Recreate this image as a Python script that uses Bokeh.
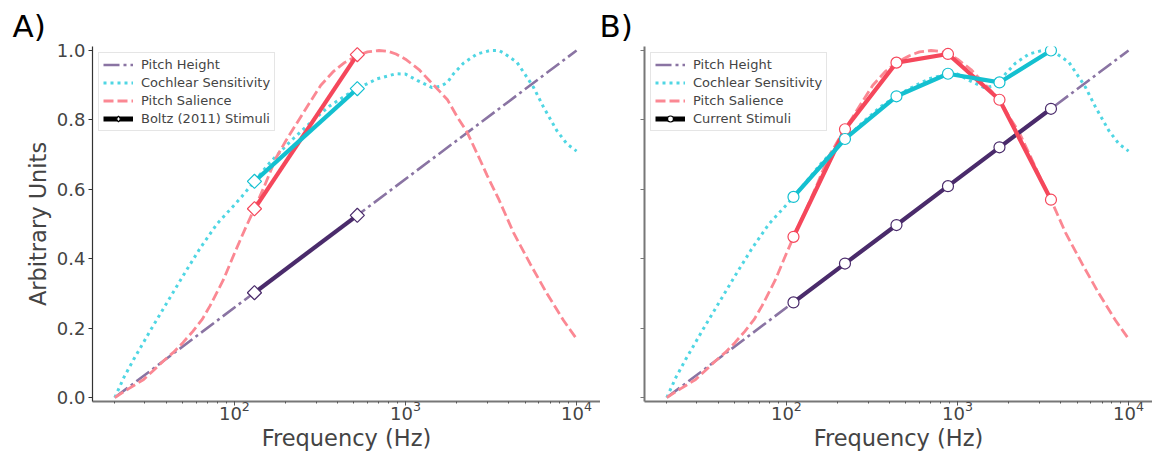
import math
from bokeh.plotting import figure
from bokeh.layouts import row
from bokeh.models import Range1d, Legend, LegendItem, Title, FixedTicker, PrintfTickFormatter
from bokeh.embed import file_html
from bokeh.resources import INLINE

# ---------------- data ----------------
height_freq = [20, 10000]
height_val = [0.0, 1.0]

cochlear_freq = [20, 22.6, 25.8, 32, 40, 50, 63, 79, 100, 110, 131, 160, 200, 220, 290, 360,
                 440, 523, 680, 880, 1000, 1170, 1430, 1600, 1760, 1910, 2180, 2620, 3130,
                 3520, 3740, 4480, 5130, 5600, 6410, 7670, 8780, 10000]
cochlear_val = [0.0, 0.058, 0.11, 0.19, 0.27, 0.35, 0.43, 0.50, 0.555, 0.578, 0.623, 0.675, 0.725,
                0.745, 0.80, 0.84, 0.868, 0.89, 0.918, 0.933, 0.932, 0.914, 0.893, 0.897, 0.908,
                0.933, 0.963, 0.99, 1.0, 1.0, 0.993, 0.966, 0.923, 0.894, 0.837, 0.769, 0.731, 0.71]

salience_freq = [20, 24, 29.5, 34, 38.6, 44, 50, 57, 65, 72, 86, 100, 110, 117, 131, 150, 175, 200,
                 220, 260, 320, 380, 440, 523, 600, 700, 800, 880, 1000, 1200, 1400, 1600, 1760,
                 2000, 2290, 2740, 3000, 3520, 4280, 5360, 6700, 8400, 10000]
salience_val = [0.0, 0.025, 0.052, 0.08, 0.106, 0.13, 0.158, 0.19, 0.226, 0.264, 0.338, 0.415, 0.462,
                0.492, 0.544, 0.61, 0.69, 0.74, 0.773, 0.83, 0.90, 0.94, 0.965, 0.985, 0.996, 1.0,
                0.997, 0.99, 0.975, 0.945, 0.91, 0.88, 0.858, 0.81, 0.765, 0.683, 0.64, 0.57, 0.475,
                0.385, 0.30, 0.222, 0.169]

# Panel A: Boltz (2011) stimuli
boltz_freq = [131, 523]
boltz_height = [0.302, 0.525]
boltz_cochlear = [0.623, 0.89]
boltz_salience = [0.544, 0.988]

# Panel B: current stimuli
cur_freq = [110, 220, 440, 880, 1760, 3520]
cur_height = [0.274, 0.386, 0.497, 0.609, 0.721, 0.832]
cur_cochlear = [0.578, 0.745, 0.868, 0.933, 0.908, 1.0]
cur_salience = [0.463, 0.773, 0.965, 0.99, 0.858, 0.570]

y_ticks = [0.0, 0.2, 0.4, 0.6, 0.8, 1.0]

# ---------------- styles ----------------
FONT = "DejaVu Sans"
PURPLE = "#4a2b6b"
PURPLE_LIGHT = "#8a74a3"
CYAN = "#14c0d0"
CYAN_LIGHT = "#4fd6e3"
RED = "#f5475b"
RED_LIGHT = "#fb8893"

X_RANGE = (10 ** 1.1706, 10 ** 4.14)
Y_RANGE = (-0.0115, 1.0115)
FRAME_W = 508
FRAME_H = 355
NAN = float("nan")


def make_panel(label, border_left, title_offset, show_ylabels, stim_freq, stim_h, stim_c, stim_s,
               marker, msize, mangle, legend_marker, legend_msize, stim_label, left_spine_color,
               left_spine_width):
    p = figure(frame_width=FRAME_W, frame_height=FRAME_H,
               x_axis_type="log", output_backend="svg", toolbar_location=None,
               x_range=Range1d(*X_RANGE), y_range=Range1d(*Y_RANGE),
               min_border_left=border_left, min_border_right=0, min_border_top=46,
               min_border_bottom=40)
    p.title = Title(text=label, text_font=FONT, text_font_size="31px", text_font_style="normal",
                    align="left", offset=title_offset, standoff=5, text_color="black")
    p.outline_line_color = None
    p.grid.visible = False
    p.background_fill_color = "white"
    p.border_fill_color = "white"

    # axes
    p.xaxis.axis_label = "Frequency (Hz)"
    p.xaxis.axis_label_text_font = FONT
    p.xaxis.axis_label_text_font_size = "22.5px"
    p.xaxis.axis_label_text_font_style = "normal"
    p.xaxis.axis_label_standoff = 2
    p.xaxis.major_label_text_font = FONT
    p.xaxis.major_label_text_font_size = "18px"
    p.xaxis.major_label_standoff = -5
    p.xaxis.axis_line_color = "#777777"
    p.xaxis.axis_line_width = 2
    p.xaxis.major_tick_line_color = "#555555"
    p.xaxis.minor_tick_line_color = "#555555"
    p.xaxis.major_tick_out = 4
    p.xaxis.major_tick_in = 0
    p.xaxis.minor_tick_out = 2
    p.xaxis.minor_tick_in = 0
    p.xaxis.ticker.num_minor_ticks = 10

    p.yaxis.ticker = FixedTicker(ticks=y_ticks)
    p.yaxis.formatter = PrintfTickFormatter(format="%.1f")
    p.yaxis.major_label_text_font = FONT
    p.yaxis.major_label_text_font_size = "18px"
    p.yaxis.major_label_standoff = 3
    p.yaxis.axis_line_color = left_spine_color
    p.yaxis.axis_line_width = left_spine_width
    p.yaxis.major_tick_line_color = left_spine_color
    p.yaxis.major_tick_out = 4
    p.yaxis.major_tick_in = 0
    p.yaxis.minor_tick_line_color = None
    if show_ylabels:
        p.yaxis.axis_label = "Arbitrary Units"
        p.yaxis.axis_label_text_font = FONT
        p.yaxis.axis_label_text_font_size = "22.5px"
        p.yaxis.axis_label_text_font_style = "normal"
        p.yaxis.axis_label_standoff = 3
    else:
        p.yaxis.major_label_text_color = None

    # model curves
    r_h = p.line(height_freq, height_val, line_color=PURPLE_LIGHT, line_width=2.6,
                 line_dash="16 4 3 4")
    r_c = p.line(cochlear_freq, cochlear_val, line_color=CYAN_LIGHT, line_width=3,
                 line_dash="3 4")
    r_s = p.line(salience_freq, salience_val, line_color=RED_LIGHT, line_width=2.8,
                 line_dash="10 4")

    # stimuli
    for vals, col in ((stim_h, PURPLE), (stim_s, RED), (stim_c, CYAN)):
        p.line(stim_freq, vals, line_color=col, line_width=4.2)
        p.scatter(stim_freq, vals, marker=marker, size=msize, angle=mangle, fill_color="white",
                  line_color=col, line_width=1.2)

    # legend-only renderers (NaN data: nothing is drawn in the plot)
    d_line = p.line([NAN], [NAN], line_color="black", line_width=5)
    d_mark = p.scatter([NAN], [NAN], marker=legend_marker, size=legend_msize,
                       fill_color="white", line_color="black", line_width=1.2)

    legend = Legend(items=[
        LegendItem(label="Pitch Height", renderers=[r_h]),
        LegendItem(label="Cochlear Sensitivity", renderers=[r_c]),
        LegendItem(label="Pitch Salience", renderers=[r_s]),
        LegendItem(label=stim_label, renderers=[d_line, d_mark]),
    ], location="top_left")
    legend.label_text_font = FONT
    legend.label_text_font_size = "13px"
    legend.glyph_width = 30
    legend.glyph_height = 15
    legend.label_height = 15
    legend.label_standoff = 8
    legend.spacing = 3
    legend.padding = 4
    legend.margin = 6
    legend.border_line_color = "#cccccc"
    legend.border_line_width = 1
    legend.background_fill_color = "white"
    legend.background_fill_alpha = 0.85
    p.add_layout(legend)
    return p


pa = make_panel("A)", 92, -80, True, boltz_freq, boltz_height, boltz_cochlear, boltz_salience,
                "square", 10, math.pi / 4, "diamond", 15, "Boltz (2011) Stimuli", "#333333", 1.2)
pb = make_panel("B)", 44, -45, False, cur_freq, cur_height, cur_cochlear, cur_salience,
                "circle", 11, 0.0, "circle", 10, "Current Stimuli", "#777777", 2)

layout = row(pa, pb)
open("out.html", "w").write(file_html(layout, INLINE))
